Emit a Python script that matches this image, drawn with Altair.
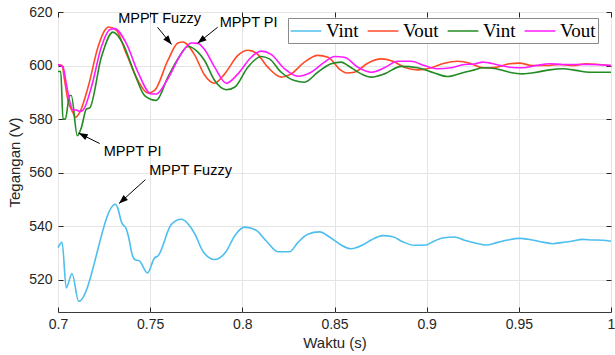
import math
import altair as alt
import pandas as pd

# ---- data ----
t_vint_fuzzy = [0.7, 0.7022, 0.7045, 0.7076, 0.7112, 0.7311, 0.7325, 0.7344, 0.7371, 0.7383, 0.7401, 0.7416, 0.7443,
                0.7485, 0.7524, 0.7542, 0.7615, 0.7669, 0.7741, 0.7786, 0.7849, 0.7913, 0.7958, 0.8012, 0.8075, 0.813,
                0.8193, 0.8256, 0.8301, 0.8355, 0.8419, 0.8473, 0.8536, 0.859, 0.8653, 0.8699, 0.8762, 0.8816, 0.887,
                0.8934, 0.8997, 0.9033, 0.9087, 0.9151, 0.9205, 0.9268, 0.9322, 0.9385, 0.944, 0.9503, 0.9566, 0.9629,
                0.9684, 0.9738, 0.9792, 0.9846, 0.99, 0.9955, 1.0]
v_vint_fuzzy = [532, 534, 517, 522.4, 512, 548.2, 546.6, 541.6, 538.9, 536, 529.8, 527.6, 527,
                522.6, 528.2, 528.9, 540.7, 542.6, 537.3, 530.7, 527.6, 530.7, 536.4, 539.7, 538.5, 534.5,
                530.5, 530.5, 533.9, 537, 537.9, 536, 533, 531.6, 533, 534.9, 536.5, 536.1, 534.2,
                532.9, 533, 534.2, 535.6, 536, 534.8, 533.7, 533, 534, 534.9, 535.5, 535, 534.1,
                533.5, 534, 534.5, 535.1, 534.9, 534.8, 534.4]

t_vout_fuzzy = [0.7, 0.7022, 0.7036, 0.7054, 0.7081, 0.7094, 0.7118, 0.7163, 0.7217, 0.7253, 0.7276, 0.7317, 0.7371,
                0.7434, 0.7488, 0.7524, 0.7596, 0.765, 0.7678, 0.7741, 0.7795, 0.7849, 0.7904, 0.7976, 0.803, 0.8075,
                0.8138, 0.8211, 0.8265, 0.8337, 0.8409, 0.8464, 0.8536, 0.8565, 0.8608, 0.868, 0.8753, 0.8816, 0.8879,
                0.8951, 0.9024, 0.9096, 0.9169, 0.9241, 0.9304, 0.9377, 0.9449, 0.9503, 0.9575, 0.9648, 0.972, 0.9792,
                0.9865, 0.9937, 1.0]
v_vout_fuzzy = [600.3, 600, 594.4, 587, 582.5, 580.7, 582.5, 591.9, 606.9, 613.1, 614.4, 613.1, 604.4,
                594.4, 589.7, 590.7, 601.9, 608.4, 608.8, 604, 596.5, 593.4, 596.9, 603.8, 605.7, 604.7,
                599.4, 595.7, 596.9, 601.3, 603.8, 603.1, 598.2, 597.2, 597.5, 600.9, 602.5, 601.6, 599.4,
                598.4, 599.2, 600.9, 601.6, 600.7, 599.2, 599.4, 600.7, 600.9, 600, 600, 600.4, 600,
                600.7, 600.4, 600]

t_vint_pi = [0.7, 0.7015, 0.7027, 0.704, 0.7063, 0.7072, 0.7105, 0.7127, 0.7154, 0.7172, 0.7235, 0.7298, 0.7352,
             0.7416, 0.747, 0.7533, 0.7596, 0.765, 0.7705, 0.7759, 0.7795, 0.7849, 0.7913, 0.7958, 0.803, 0.8102,
             0.8147, 0.8211, 0.8283, 0.8337, 0.8409, 0.8482, 0.8536, 0.8572, 0.8645, 0.8699, 0.8771, 0.8862, 0.8951,
             0.9042, 0.9114, 0.9205, 0.9259, 0.9304, 0.9377, 0.9449, 0.9521, 0.9594, 0.9666, 0.9738, 0.981, 0.9883,
             1.0]
v_vint_pi = [597.8, 597.8, 580, 580, 588.8, 588.8, 573.8, 576.9, 583.8, 584.2, 603.1, 612.5, 608.2,
             596.9, 588.8, 587, 595.7, 602.5, 607.1, 605, 601.9, 594.5, 591, 591.9, 599.4, 603.4,
             602.5, 597.5, 594.4, 593.8, 597.5, 600.7, 601.3, 600, 596.9, 595.7, 596.9, 599.7, 599.2,
             597.2, 595.9, 597.5, 598.4, 599.2, 598.8, 597.5, 596.9, 597.5, 598.4, 598.8, 598.2, 597.5,
             597.5]

t_vout_pi = [0.7, 0.7027, 0.7045, 0.7063, 0.7081, 0.71, 0.7118, 0.7136, 0.7181, 0.7235, 0.728, 0.7307, 0.7371,
             0.7434, 0.7506, 0.7533, 0.7596, 0.7669, 0.7723, 0.7759, 0.7795, 0.7849, 0.7913, 0.7976, 0.8048, 0.8102,
             0.8156, 0.8229, 0.8301, 0.8373, 0.8446, 0.85, 0.8554, 0.8626, 0.8699, 0.8771, 0.8843, 0.8915, 0.8988,
             0.906, 0.9132, 0.9205, 0.9259, 0.9304, 0.9377, 0.9449, 0.9521, 0.9594, 0.9666, 0.9738, 0.981, 0.9883,
             1.0]
v_vout_pi = [600.3, 599.4, 593.2, 587, 583.4, 583.4, 582.9, 583.4, 591.9, 606.9, 613.4, 613.8, 608.2,
             597.5, 589.4, 589.4, 595.1, 604.4, 608.4, 608.3, 606, 599.5, 593.4, 596.9, 603.1, 605.4,
             604.2, 598.8, 596, 597.5, 601.3, 603.4, 603.1, 599.4, 597.5, 599.2, 601.6, 601.6, 600,
             598.8, 599.2, 600.4, 600.6, 601.3, 600.4, 599.4, 599.2, 600, 600.7, 600.4, 600.4, 600.4,
             600]

series_keys = ["Vint_F", "Vout_F", "Vint_PI", "Vout_PI"]
series_colors = ["#4DBEEE", "#FF4A26", "#238B23", "#FF1AFF"]

x_ticks = [0.7, 0.75, 0.8, 0.85, 0.9, 0.95, 1.0]
y_ticks = [520, 540, 560, 580, 600, 620]
x_domain = [0.7, 1.0]
y_domain = [508, 620]

ann_text = ["MPPT Fuzzy", "MPPT PI", "MPPT PI", "MPPT Fuzzy"]
ann_tx = [0.7551, 0.8034, 0.7405, 0.7719]
ann_ty = [617.3, 615.8, 567.6, 560.5]
arr_x1 = [0.7540, 0.7866, 0.7226, 0.7474]
arr_y1 = [614.3, 614.3, 570.9, 557.4]
arr_x2 = [0.7616, 0.7757, 0.7112, 0.7331]
arr_y2 = [607.9, 608.3, 574.8, 548.5]

# ---- layout ----
W, H = 553, 300
FONT = "Liberation Sans"
DARK = "#262626"

rows = []
for key, ts, vs in zip(series_keys, [t_vint_fuzzy, t_vout_fuzzy, t_vint_pi, t_vout_pi],
                       [v_vint_fuzzy, v_vout_fuzzy, v_vint_pi, v_vout_pi]):
    for t, v in zip(ts, vs):
        rows.append({"t": t, "v": v, "s": key})
df = pd.DataFrame(rows)

sx = W / (x_domain[1] - x_domain[0])
sy = H / (y_domain[1] - y_domain[0])
angles = []
for x1, y1, x2, y2 in zip(arr_x1, arr_y1, arr_x2, arr_y2):
    dx = (x2 - x1) * sx
    dy = -(y2 - y1) * sy
    angles.append(math.degrees(math.atan2(dx, -dy)) % 360)
ann = pd.DataFrame({"text": ann_text, "tx": ann_tx, "ty": ann_ty,
                    "x1": arr_x1, "y1": arr_y1, "x2": arr_x2, "y2": arr_y2, "ang": angles})

xs = alt.Scale(domain=x_domain, nice=False, zero=False)
ys = alt.Scale(domain=y_domain, nice=False, zero=False)

main_x = alt.Axis(orient="bottom", values=x_ticks, format="~g", grid=True, gridColor="#e4e4e4",
                  ticks=False, tickSize=0, domain=False, labelFont=FONT, labelFontSize=14,
                  labelColor=DARK, labelPadding=5, labelFlush=False, title="Waktu (s)",
                  titleFont=FONT, titleFontSize=15, titleFontWeight="normal", titleColor=DARK,
                  titlePadding=4)
main_y = alt.Axis(orient="left", values=y_ticks, format="d", grid=True, gridColor="#e4e4e4",
                  ticks=False, tickSize=0, domain=False, labelFont=FONT, labelFontSize=14,
                  labelColor=DARK, labelPadding=6, labelFlush=False, title="Tegangan (V)",
                  titleFont=FONT, titleFontSize=15, titleFontWeight="normal", titleColor=DARK,
                  titlePadding=6)


def tick_axis(orient, vals):
    return alt.Axis(orient=orient, values=vals, labels=False, grid=False, domain=False, ticks=True,
                    tickSize=5, offset=-5, tickColor=DARK, title=None)


lines = alt.Chart(df).mark_line(strokeWidth=1.6, interpolate="monotone").encode(
    x=alt.X("t:Q", scale=xs, axis=main_x),
    y=alt.Y("v:Q", scale=ys, axis=main_y),
    color=alt.Color("s:N", scale=alt.Scale(domain=series_keys, range=series_colors),
                    legend=alt.Legend(orient="none", legendX=230, legendY=6, direction="horizontal",
                                      title=None, symbolType="M-1.5,0L1.5,0", symbolSize=420,
                                      symbolStrokeWidth=1.5, symbolOffset=5,
                                      labelFont="Liberation Serif",
                                      labelFontSize=19, labelColor="black", strokeColor="#8a8a8a",
                                      fillColor="white", padding=2, columnPadding=5, labelOffset=9,
                                      labelExpr="split(datum.label, '_')[0]")),
)

shafts = alt.Chart(ann).mark_rule(color="black", strokeWidth=1).encode(
    x=alt.X("x1:Q", scale=xs, axis=tick_axis("top", x_ticks)),
    y=alt.Y("y1:Q", scale=ys, axis=tick_axis("right", y_ticks)),
    x2="x2:Q",
    y2="y2:Q",
)

heads = alt.Chart(ann).mark_point(shape="M0,0L-0.4,1.1L0.4,1.1Z", filled=True, color="black",
                                  opacity=1, size=270).encode(
    x=alt.X("x2:Q", scale=xs, axis=tick_axis("bottom", x_ticks)),
    y=alt.Y("y2:Q", scale=ys, axis=tick_axis("left", y_ticks)),
    angle=alt.Angle("ang:Q", scale=None),
)

labels = alt.Chart(ann).mark_text(font=FONT, fontSize=14.5, color="black", align="center",
                                  baseline="middle").encode(
    x=alt.X("tx:Q", scale=xs, axis=None),
    y=alt.Y("ty:Q", scale=ys, axis=None),
    text="text:N",
)

chart = alt.layer(lines, shafts, heads, labels).resolve_axis(
    x="independent", y="independent"
).properties(
    width=W, height=H,
    autosize=alt.AutoSizeParams(type="none"),
    padding={"left": 58, "top": 12, "right": 4, "bottom": 43},
    background="white",
).configure_view(stroke="#3a3a3a", strokeWidth=1)

chart.save("out.html", embed_options={"renderer": "svg", "actions": False})
